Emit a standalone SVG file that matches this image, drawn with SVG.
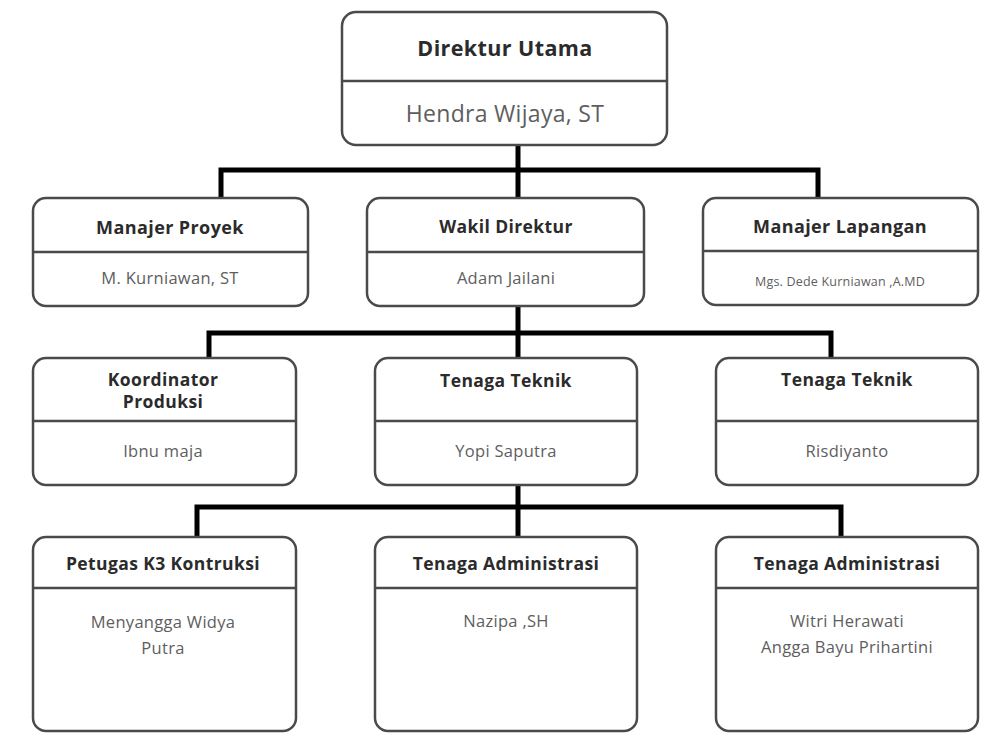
<svg xmlns="http://www.w3.org/2000/svg" width="990" height="749" viewBox="0 0 990 749">
<style>
.box{fill:#ffffff;stroke:#4a4a4a;stroke-width:2.5}
.div{stroke:#4a4a4a;stroke-width:2.5}
.t{font-family:"Open Sans","Liberation Sans",sans-serif;font-weight:700;font-size:17.5px;letter-spacing:0.4px;fill:#2b2b2b;text-anchor:middle;dominant-baseline:central}
.n{font-family:"Open Sans","Liberation Sans",sans-serif;font-weight:400;font-size:16.5px;letter-spacing:0.3px;fill:#5e5e5e;text-anchor:middle;dominant-baseline:central}
.c{fill:none;stroke:#000;stroke-width:5;stroke-linejoin:miter;stroke-linecap:butt}
</style>
<rect width="990" height="749" fill="#ffffff"/>
<g id="connectors">
<path class="c" d="M518,145 V198"/>
<path class="c" d="M221,198 V170 H818 V198"/>
<path class="c" d="M518,306 V358"/>
<path class="c" d="M209,358 V333 H831 V358"/>
<path class="c" d="M518,485 V537"/>
<path class="c" d="M197,537 V507 H841 V537"/>
</g>
<g id="direktur-utama">
<rect class="box" x="342" y="12" width="325" height="133" rx="14"/>
<line class="div" x1="342" y1="81" x2="667" y2="81"/>
<text class="t" x="505" y="47" style="font-size:21.5px">Direktur Utama</text>
<text class="n" x="505" y="113" style="font-size:23px">Hendra Wijaya, ST</text>
</g>
<g id="manajer-proyek">
<rect class="box" x="33" y="198" width="275" height="108" rx="13"/>
<line class="div" x1="33" y1="252" x2="308" y2="252"/>
<text class="t" x="170" y="227" style="font-size:18px">Manajer Proyek</text>
<text class="n" x="170" y="277">M. Kurniawan, ST</text>
</g>
<g id="wakil-direktur">
<rect class="box" x="367" y="198" width="277" height="108" rx="13"/>
<line class="div" x1="367" y1="252" x2="644" y2="252"/>
<text class="t" x="506" y="226">Wakil Direktur</text>
<text class="n" x="506" y="277">Adam Jailani</text>
</g>
<g id="manajer-lapangan">
<rect class="box" x="703" y="198" width="275" height="107" rx="13"/>
<line class="div" x1="703" y1="251" x2="978" y2="251"/>
<text class="t" x="840" y="226" style="font-size:18px">Manajer Lapangan</text>
<text class="n" x="840" y="281" style="font-size:12.5px;letter-spacing:0.2px">Mgs. Dede Kurniawan ,A.MD</text>
</g>
<g id="koordinator-produksi">
<rect class="box" x="33" y="358" width="263" height="127" rx="13"/>
<line class="div" x1="33" y1="421" x2="296" y2="421"/>
<text class="t" x="163" y="379">Koordinator</text>
<text class="t" x="163" y="401">Produksi</text>
<text class="n" x="163" y="450">Ibnu maja</text>
</g>
<g id="tenaga-teknik-1">
<rect class="box" x="375" y="358" width="262" height="127" rx="13"/>
<line class="div" x1="375" y1="421" x2="637" y2="421"/>
<text class="t" x="506" y="380">Tenaga Teknik</text>
<text class="n" x="506" y="450">Yopi Saputra</text>
</g>
<g id="tenaga-teknik-2">
<rect class="box" x="716" y="358" width="262" height="127" rx="13"/>
<line class="div" x1="716" y1="421" x2="978" y2="421"/>
<text class="t" x="847" y="379">Tenaga Teknik</text>
<text class="n" x="847" y="450">Risdiyanto</text>
</g>
<g id="petugas-k3">
<rect class="box" x="33" y="537" width="263" height="194" rx="13"/>
<line class="div" x1="33" y1="588" x2="296" y2="588"/>
<text class="t" x="163" y="563">Petugas K3 Kontruksi</text>
<text class="n" x="163" y="621">Menyangga Widya</text>
<text class="n" x="163" y="647">Putra</text>
</g>
<g id="tenaga-administrasi-1">
<rect class="box" x="375" y="537" width="262" height="194" rx="13"/>
<line class="div" x1="375" y1="588" x2="637" y2="588"/>
<text class="t" x="506" y="563">Tenaga Administrasi</text>
<text class="n" x="506" y="620">Nazipa ,SH</text>
</g>
<g id="tenaga-administrasi-2">
<rect class="box" x="716" y="537" width="262" height="194" rx="13"/>
<line class="div" x1="716" y1="588" x2="978" y2="588"/>
<text class="t" x="847" y="563">Tenaga Administrasi</text>
<text class="n" x="847" y="620">Witri Herawati</text>
<text class="n" x="847" y="646">Angga Bayu Prihartini</text>
</g>
</svg>
